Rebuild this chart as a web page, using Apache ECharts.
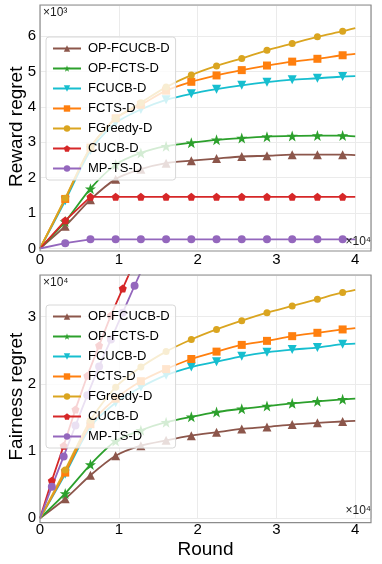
<!DOCTYPE html>
<html>
<head>
<meta charset="utf-8">
<script src="https://cdn.jsdelivr.net/npm/echarts@6/dist/echarts.min.js"></script>
<style>
html, body { margin: 0; padding: 0; background: #fff; }
#chart { width: 382px; height: 564px; }
</style>
</head>
<body>
<div id="chart"></div>
<script>
// rounds where the markers sit (last one is the line end, no marker)
const rounds = [0, 3200, 6400, 9600, 12800, 16000, 19200, 22400, 25600, 28800, 32000, 35200, 38400, 40000];
// CUCB-D / MP-TS-D in the fairness plot have denser markers and leave the plot early
const roundsFast = [0, 1500, 3000, 4500, 6000, 7500, 9000, 10500, 12000, 13500];

const names = ['OP-FCUCB-D', 'OP-FCTS-D', 'FCUCB-D', 'FCTS-D', 'FGreedy-D', 'CUCB-D', 'MP-TS-D'];

// reward regret
const rewardOpFcucb = [0, 630, 1380, 1960, 2240, 2410, 2480, 2540, 2600, 2620, 2650, 2650, 2650, 2640];
const rewardOpFcts = [0, 760, 1690, 2370, 2700, 2890, 2990, 3070, 3120, 3160, 3180, 3190, 3190, 3170];
const rewardFcucb = [0, 1350, 2770, 3550, 3930, 4200, 4370, 4500, 4610, 4700, 4770, 4810, 4860, 4870];
const rewardFcts = [0, 1400, 2850, 3680, 4060, 4460, 4710, 4890, 5040, 5170, 5280, 5360, 5460, 5500];
const rewardFgreedy = [0, 1420, 2860, 3670, 4120, 4560, 4900, 5160, 5370, 5600, 5790, 5980, 6140, 6230];
const rewardCucb = [0, 790, 1460, 1460, 1460, 1460, 1460, 1460, 1460, 1460, 1460, 1460, 1460, 1460];
const rewardMpts = [0, 150, 260, 260, 260, 260, 260, 260, 260, 260, 260, 260, 260, 260];

// fairness regret
const fairOpFcucb = [0, 2900, 6400, 9300, 10800, 11600, 12300, 12800, 13300, 13600, 13950, 14200, 14400, 14500];
const fairOpFcts = [0, 3700, 8000, 11500, 13100, 14300, 15100, 15800, 16300, 16700, 17100, 17400, 17700, 17800];
const fairFcucb = [0, 6600, 13600, 17200, 19500, 21300, 22500, 23300, 24100, 24700, 25100, 25400, 25900, 26000];
const fairFcts = [0, 6800, 14000, 17800, 20400, 22200, 23700, 24800, 25800, 26400, 27100, 27600, 28100, 28300];
const fairFgreedy = [0, 7200, 14600, 19500, 22500, 24800, 26600, 28100, 29400, 30600, 31600, 32600, 33600, 34000];
const fairCucb = [0, 5600, 10800, 16200, 21200, 25700, 30200, 34200, 38200];
const fairMpts = [0, 4700, 9200, 13800, 18300, 22600, 26600, 30600, 34600, 38500];

const starPath = 'path://M50,0 L61.8,35.1 L97.6,34.5 L69.1,56.7 L79.4,90.5 L50,70 L20.6,90.5 L30.9,56.7 L2.4,34.5 L38.2,35.1 Z';
const pentPath = 'path://M50,0 L97.6,34.5 L79.4,90.5 L20.6,90.5 L2.4,34.5 Z';
const downTri = 'path://M0,0 L100,0 L50,86.6 Z';

const styles = {
  'OP-FCUCB-D': { color: '#8c564b', symbol: 'triangle', size: 9 },
  'OP-FCTS-D': { color: '#2ca02c', symbol: starPath, size: 11 },
  'FCUCB-D': { color: '#17becf', symbol: downTri, size: 9 },
  'FCTS-D': { color: '#ff7f0e', symbol: 'rect', size: 8 },
  'FGreedy-D': { color: '#daa520', symbol: 'circle', size: 7 },
  'CUCB-D': { color: '#d62728', symbol: pentPath, size: 8 },
  'MP-TS-D': { color: '#9467bd', symbol: 'circle', size: 8 }
};

function mk(name, xs, ys, idx, smooth) {
  const s = styles[name];
  return {
    name: name,
    type: 'line',
    xAxisIndex: idx,
    yAxisIndex: idx,
    smooth: smooth,
    symbol: s.symbol,
    symbolSize: s.size,
    clip: true,
    itemStyle: { color: s.color },
    lineStyle: { color: s.color, width: 1.8 },
    // no marker on the first point and on the line end
    data: ys.map((y, i) => {
      const item = { value: [xs[i], y] };
      if (i === 0 || xs[i] === 40000) item.symbol = 'none';
      return item;
    })
  };
}

const font = 'Liberation Sans, Arial, sans-serif';

function xAxis(idx, withName) {
  return {
    type: 'value', gridIndex: idx, min: 0, max: 42000, interval: 10000,
    name: withName ? 'Round' : '',
    nameLocation: 'middle', nameGap: 22,
    nameTextStyle: { fontSize: 19, color: '#000', fontFamily: font },
    axisLine: { show: false }, axisTick: { show: false },
    axisLabel: {
      margin: 4, fontSize: 15, color: '#000', fontFamily: font,
      formatter: v => (v % 10000 === 0 ? String(v / 10000) : '')
    },
    splitLine: { show: true, lineStyle: { color: '#ebebeb', width: 1 } }
  };
}

function yAxis(idx, name, max, step) {
  return {
    type: 'value', gridIndex: idx, min: 0, max: max, interval: step,
    name: name, nameLocation: 'middle', nameGap: 14, nameMoveOverlap: false,
    nameTextStyle: { fontSize: 19, color: '#000', fontFamily: font },
    axisLine: { show: false }, axisTick: { show: false },
    axisLabel: {
      margin: 4, fontSize: 15, color: '#000', fontFamily: font,
      formatter: v => (v % step === 0 ? String(v / step) : '')
    },
    splitLine: { show: true, lineStyle: { color: '#ebebeb', width: 1 } }
  };
}

function legend(top) {
  return {
    top: top, left: 46, orient: 'vertical', z: 10,
    data: names,
    itemWidth: 28, itemHeight: 8, itemGap: 7,
    padding: [5, 6, 5, 6],
    backgroundColor: 'rgba(255,255,255,0.8)',
    borderColor: '#d8d8d8', borderWidth: 1, borderRadius: 3,
    textStyle: { fontSize: 13, color: '#000', fontFamily: font, padding: [0, 0, 0, 2] }
  };
}

function offsetText(left, top, txt, alignRight) {
  return {
    type: 'text', z: 20,
    left: alignRight ? undefined : left,
    right: alignRight ? left : undefined,
    top: top,
    style: { text: txt, fontSize: 12, fill: '#222', fontFamily: font }
  };
}

// plot frames sit a little below y = 0, like the matplotlib margins
function frame(y, h) {
  return {
    type: 'rect', z: 5, silent: true,
    shape: { x: 40, y: y, width: 331, height: h },
    style: { fill: 'none', stroke: '#8c8c8c', lineWidth: 1.2 }
  };
}

const option = {
  animation: false,
  backgroundColor: '#fff',
  grid: [
    { left: 40, top: 5, width: 331, height: 243.5, outerBoundsMode: 'none', containLabel: false },
    { left: 40, top: 275, width: 331, height: 243.3, outerBoundsMode: 'none', containLabel: false }
  ],
  xAxis: [xAxis(0, false), xAxis(1, true)],
  yAxis: [yAxis(0, 'Reward regret', 6880, 1000), yAxis(1, 'Fairness regret', 36200, 10000)],
  legend: [legend(37), legend(305)],
  graphic: [
    frame(5, 246), frame(275, 247.6),
    offsetText(43, 7, '×10³', false),
    offsetText(11, 236, '×10⁴', true),
    offsetText(43, 277, '×10⁴', false),
    offsetText(11, 505, '×10⁴', true)
  ],
  series: [
    mk('OP-FCUCB-D', rounds, rewardOpFcucb, 0, 0.25),
    mk('OP-FCTS-D', rounds, rewardOpFcts, 0, 0.25),
    mk('FCUCB-D', rounds, rewardFcucb, 0, 0.25),
    mk('FCTS-D', rounds, rewardFcts, 0, 0.25),
    mk('FGreedy-D', rounds, rewardFgreedy, 0, 0.25),
    mk('CUCB-D', rounds, rewardCucb, 0, false),
    mk('MP-TS-D', rounds, rewardMpts, 0, false),
    mk('OP-FCUCB-D', rounds, fairOpFcucb, 1, 0.25),
    mk('OP-FCTS-D', rounds, fairOpFcts, 1, 0.25),
    mk('FCUCB-D', rounds, fairFcucb, 1, 0.25),
    mk('FCTS-D', rounds, fairFcts, 1, 0.25),
    mk('FGreedy-D', rounds, fairFgreedy, 1, 0.25),
    mk('CUCB-D', roundsFast, fairCucb, 1, 0.15),
    mk('MP-TS-D', roundsFast, fairMpts, 1, 0.15)
  ]
};

const myChart = echarts.init(document.getElementById('chart'));
myChart.setOption(option);
</script>
</body>
</html>
